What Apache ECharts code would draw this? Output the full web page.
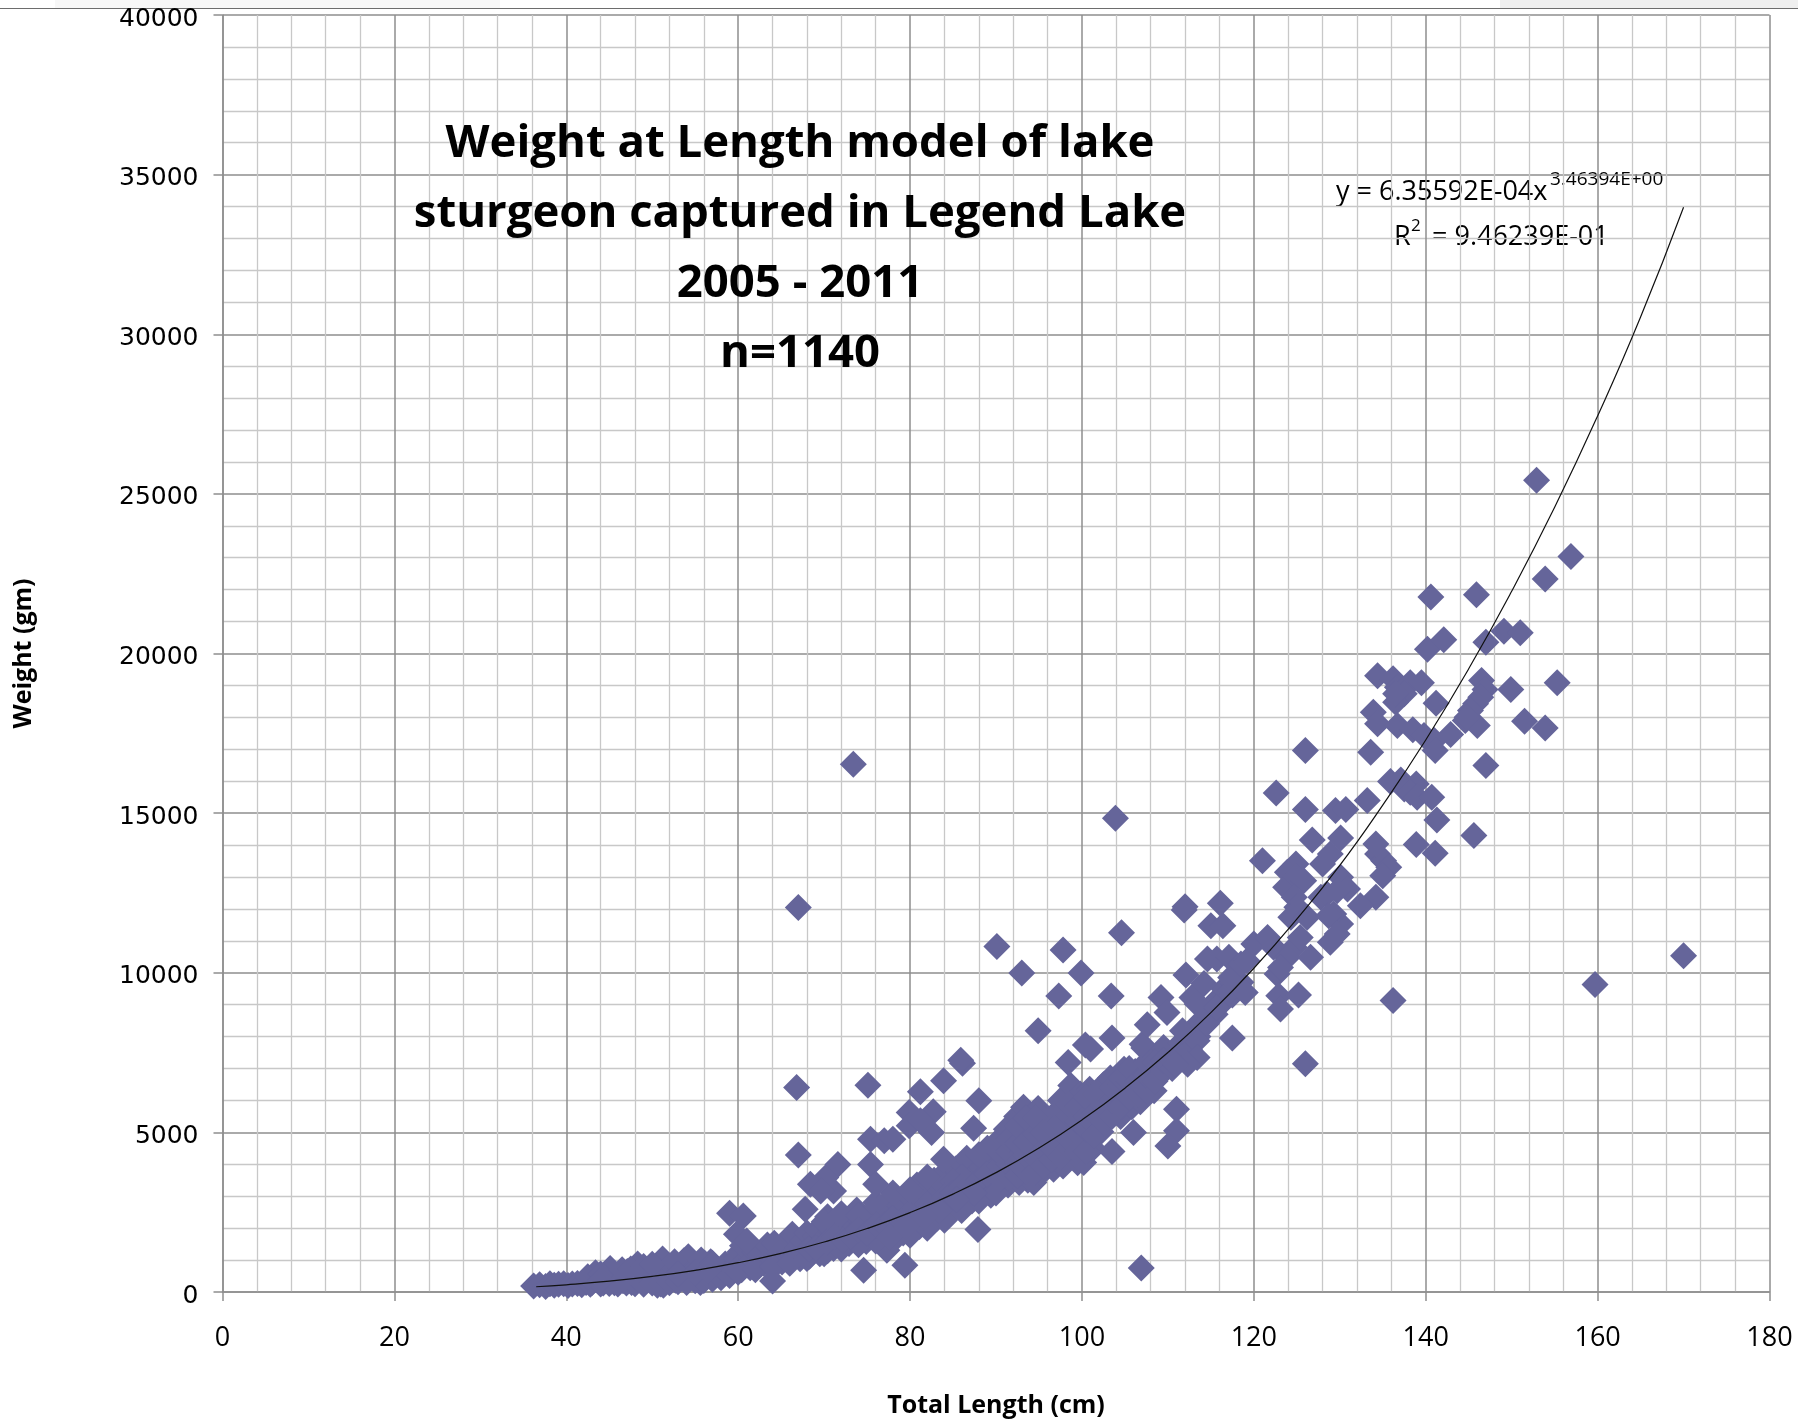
<!DOCTYPE html>
<html>
<head>
<meta charset="utf-8">
<title>Weight at Length model of lake sturgeon</title>
<script src="https://cdn.jsdelivr.net/npm/echarts@6/dist/echarts.min.js"></script>
<style>
  html, body { margin: 0; padding: 0; background: #fff; }
  #chart { width: 1798px; height: 1420px; }
</style>
</head>
<body>
<div id="chart"></div>
<script>
// [total length cm, weight gm]
const smallFish = [
  [36.2,190],[36.9,230],[37.6,170],[38.1,255],[38.6,215],[39.1,240],[39.7,260],[40.2,205],[40.7,250],[41.3,265],[41.8,225],
  [42.3,300],[42.8,240],[43.4,600],[43.9,420],[44.3,280],[44.7,470],[45.1,740],[45.6,290],[46.1,520],[46.6,350],[47.1,640],
  [47.6,300],[48,760],[48.3,880],[48.8,420],[49.2,620],[49.6,740],[50,340],[50.6,210],[50.5,800],[51.2,1035],[51.3,215],
  [51.8,560],[52.3,820],[52.7,370],[53.2,700],[53.7,980],[54.2,1108],[54.7,520],[55.2,790],[55.6,295],[56.1,900],[56.8,950],
  [57.2,480],[57.6,720],[57.9,520],[58.2,700],[58.5,880],[58.8,610],[59.3,650],[59.5,800],[59.8,1050],[60.2,1250],[60.4,700],
  [60.7,950],[60.5,1450],[61.4,760],[61.7,1020],[62,1250],[62.4,820],[62.6,1160],[63,900],[63.4,1470],[63.7,1080],[64.2,1526],
  [64.4,880],[64.8,1200],[65.1,940],[65.4,1380],[65.8,1050],[66.1,1730],[66.3,1808],[66.5,1100],[66.9,1400],[67.2,1045],
  [43,300],[44,250],[45,270],[46,250],[47,280],[48,260],[49,240],[50,280],[51,250],[52,290],[53,320],[54,300],[55,350],[56,360],
  [57,400],[58,450],[59,520],[42.5,480],[44,560],[46.5,700],[47.5,720],[49,800],[50,870],[52.6,950],[55.7,1000],[57,900],[53,560],
  [55,600],[56.5,650],[44,350],[47,500],[60,620],[62,700],[64,800],[66,900]
];

const mediumFish = [
  [67.5,1600],[67.8,1250],[68,1850],[68.3,1120],[68.7,1500],[69,1750],[69.2,1940],[69.5,1200],[69.8,1480],[70.1,1700],[70.4,2360],
  [70.4,1290],[70.8,1900],[71.1,1359],[71.4,1650],[71.7,2100],[72,1450],[72.3,2260],[72.5,1800],[72.9,1520],[73.2,2050],[73.5,1700],
  [73.8,2570],[73.9,1568],[74.2,2250],[74.5,1850],[74.9,1580],[75.2,2400],[75.5,2050],[75.9,1700],[76.2,2650],[76.5,2250],[76.9,1550],
  [77.3,1306],[77.2,1900],[77.6,2450],[78,2990],[78.1,1700],[78.4,2150],[78.8,2700],[79.2,1850],[79.5,2350],[79.9,3000],[80.1,1900],
  [80.4,2600],[80.8,3350],[81.1,2050],[81.5,2850],[81.9,2250],[82.2,3300],[82.4,2600],[82.8,3500],[83.1,2300],[83.5,2950],[83.9,3700],
  [84,2400],[84.3,2350],[84.6,3250],[85,2650],[85.3,3850],[85.7,2900],[86.1,4000],[86.3,2700],[86.6,4190],[86.9,3400],[87.2,2850],
  [87.6,3700],[88,3000],[88.4,3900],[88.7,3200],[89,3500],[89.4,3030],[89.7,4000],[90.1,4700],[90.3,3300],[90.6,3700],[90.9,4200],
  [91.2,5100],[91.4,3350],[91.8,4450],[92.1,3800],[92.4,5500],[92.7,3430],[93,4900],[93.2,5789],[93.4,4100],[93.7,3500],[94,5200],
  [94.4,3427],[94.6,4600],[94.9,5750],[95.2,3700],[95.6,5423],[95.9,4100],[96.2,4800],[96.7,3845],[96.9,5600],[97.2,4400],[97.5,6000],
  [97.8,3950],[98.1,5000],[98.7,6468],[98.8,4300],[99.1,5500],[99.5,4050],[99.8,6200],[100.2,4054],[100.3,4800],[100.6,5800],[100.9,6350],
  [101.3,4500],[101.6,5300],[102,6000],[102.2,5016],[102.5,6490],[102.9,5500],[103.3,6700],[103.7,5700],[104.1,6200],[104.5,5500],[104.9,6981],
  [105.3,6300],[105.8,5800],[106.2,6907],[106.8,5957],[107.2,7640],[107.6,6500],[108,7033],[108.4,6300],[109.2,6897],[109.5,7660],
  [68,1050],[70,1200],[72,1350],[74,1480],[76,1600],[78,1600],[80,1780],[82,2000],[84,2250],[86,2550],[88,2850],[90,3100],
  [70,2200],[72,2450],[74,2400],[76,2800],[78,3100],[80,3200],[82,3600],[84,3300],[86,3600],[88,4300],[89,4500],[85,3450]
];

// the solid part of the cloud, where single fish can't be told apart
const crowdedFish = [
  [68.2,1350],[69.1,1380],[70.3,1560],[71.2,1750],[72.2,1620],[73.1,1750],[74,1950],[75,1850],[76,2100],[77,2100],[78,2300],[79,2200],
  [80,2400],[81,2500],[82,2750],[83,2700],[84,3000],[85,3100],[86,3300],[87,3350],[88,3500],[89,3700],[87.4,3100],[85.4,2900],[83.4,2550],
  [81.6,2350],[79.6,2050],[77.6,1750],[90.5,3550],[90.5,3950],[90.5,4350],[91.5,3600],[91.5,4000],[91.5,4400],[91.5,4800],[92.5,3650],[92.5,4050],
  [92.5,4650],[92.5,5200],[93.5,3800],[93.5,4300],[93.5,4700],[93.5,5450],[94.5,3750],[94.5,4200],[94.5,4950],[94.5,5450],[95.5,3950],[95.5,4450],
  [95.5,5000],[96.5,4150],[96.5,4500],[96.5,5200],[97.5,4250],[97.5,4700],[97.5,5350],[97.5,5700],[98.5,4500],[98.5,4800],[98.5,5550],[98.5,5900],
  [99.5,4400],[99.5,5000],[99.5,5350],[99.5,5800],[100.5,4400],[100.5,5100],[100.5,5500],[100.5,6100],[101.5,4900],[101.5,5600],[101.5,6200],
  [102.5,5300],[102.5,5800],[103.5,5500],[103.5,6000],[103.5,6400],[104.5,5800],[104.5,6500],[104.5,6700],[105.5,6100],[105.5,6600],[105.5,7000],
  [106.5,6200],[106.5,6600],[107.5,6300],[107.5,6800],[107.5,7200],[108.5,6600],[108.5,7200],[109.5,6900],[109.5,7250],[110.5,7300],[110.5,7000],
  [111.5,7500],[111.5,7800],[112.5,7600],[112.5,8100],[113.5,8000],[113.5,8400],[114.5,8400],[114.5,8800],[115.5,8700],[115.5,9100],[116.5,9100],
  [116.5,9500],[117.5,9300],[117.5,9700],[118.5,9700]
];

const largeFish = [
  [100.4,7733],[101,7608],[103.5,7953],[107,7764],[113.4,7869],[113.4,7346],[112.3,7137],[110.9,7137],[107.6,8370],[111.7,8182],
  [109.2,9228],[112.8,9228],[113.4,9018],[109.9,8757],[115.7,8914],[117.3,9439],[114.2,9666],[112.1,9928],[117.3,9854],[119,9384],
  [114.6,10429],[115.7,10429],[117.1,10482],[118.5,10272],[119.2,10377],[120,10900],[121.6,11108],[122.3,10795],[124.7,10795],
  [123.9,10482],[125.4,11108],[126.6,10482],[122.7,9959],[123.1,10168],[122.9,9280],[125.2,9301],[123.1,8862],[115,11474],[116.4,11474],
  [116.1,12174],[112,12070],[111.9,11965],[121,13512],[124.9,13408],[123.9,13146],[128.9,13721],[128,13408],[134.4,13721],[135.1,13512],
  [135.7,13303],[135,13042],[130.1,12990],[130.9,12624],[123.7,12676],[124.9,12990],[125.8,12885],[124.7,12363],[134.2,12363],[132.4,12101],
  [125,12049],[124.3,11735],[126.2,11735],[127.8,12363],[128.5,12467],[129.7,12571],[130.1,11526],[129.3,11840],[128.7,11788],[128.9,10952],
  [129.7,11213],[126,15111],[129.5,15080],[130.7,15111],[133.2,15393],[126.8,14160],[130.1,14223],[134.2,14034],[138.9,14014],[141.1,13742],
  [141.3,14787],[145.6,14296],[122.6,15633],[126,16960],[133.6,16908],[147,16490],[135.9,15988],[137.1,16040],[138.9,15915],[137.5,15757],
  [138.2,15654],[139,15497],[140.7,15497],[133.9,18162],[134.4,17796],[136.7,17744],[138.5,17608],[139.8,17430],[141,17274],[141.1,16960],
  [142.9,17461],[144.6,17900],[146,17744],[151.5,17880],[153.9,17670],[134.4,19300],[136.2,19207],[136.7,18945],[138.2,19081],[139.5,19081],
  [137.5,18736],[136.5,18475],[136.5,18736],[141.2,18444],[146.5,19155],[146.9,18872],[149.9,18872],[155.3,19081],[146.4,18632],[145.8,18423],
  [145.2,18214],[144.8,18005],[140.2,20137],[142.1,20430],[147,20356],[149.1,20700],[151,20650],[140.6,21767],[145.9,21840],[153.9,22331],
  [156.9,23042],[152.9,25424]
];

const outlierFish = [
  [59,2466],[60.6,2383],[59.8,1808],[61,1599],[64,345],[74.6,683],[79.4,836],[87.9,1960],[66.8,6406],[75.1,6479],[86.1,7169],[83.9,6615],
  [81.2,6270],[88,5988],[87.4,5131],[79.9,5622],[82.7,5643],[79.9,5204],[82.5,4995],[81.2,5361],[75.4,4786],[77,4734],[78,4786],[67,4295],
  [83.9,4159],[75.4,3990],[71.6,3990],[70.2,3585],[68.4,3376],[71.1,3166],[69.6,3166],[67.8,2592],[76,3376],[94.9,8182],[98.4,7190],
  [111,5727],[106,4995],[111,5047],[110,4577],[103.5,4399],[106.9,755],[73.4,16530],[67,12040],[103.9,14840],[90.1,10820],[93,9990],
  [97.8,10710],[99.9,9990],[97.3,9270],[103.4,9270],[104.6,11250],[85.9,7260],[159.7,9630],[170,10530],[136.2,9130],[126,7150],[117.5,7953]
];

// trend line as drawn on the chart
const trendLength = [36.5,40,45,50,55,60,65,70,75,80,85,90,95,100,105,110,115,120,125,130,135,140,145,150,155,160,165,170];
const trendWeight = [165,225,339,488,679,918,1211,1566,1988,2486,3067,3739,4510,5390,6385,7502,8750,10140,11680,13360,15250,17290,19520,21950,24580,27440,30540,33980];

const titleLines = ['Weight at Length model of lake', 'sturgeon captured in Legend Lake', '2005 - 2011', 'n=1140'];

let allFish = smallFish.concat(mediumFish, crowdedFish, largeFish, outlierFish);
let trendLine = trendLength.map(function (len, i) { return [len, trendWeight[i]]; });

let chartDom = document.getElementById('chart');
let myChart = echarts.init(chartDom);

const majorGrid = '#8e8e8e';
const minorGrid = '#c8c8c8';
const eqFont = '"Open Sans", sans-serif';

let option = {
  animation: false,
  backgroundColor: '#fff',
  title: {
    text: titleLines.join('\n'),
    left: 795,
    top: 104,
    textAlign: 'center',
    textStyle: {
      fontFamily: '"Open Sans", sans-serif',
      fontWeight: 700,
      fontSize: 45.5,
      lineHeight: 70,
      color: '#000'
    }
  },
  grid: { left: 222.5, right: 28.5, top: 15, bottom: 128, outerBoundsMode: 'none' },
  xAxis: {
    type: 'value',
    min: 0,
    max: 180,
    interval: 20,
    minorTick: { show: false, splitNumber: 5 },
    minorSplitLine: { show: true, lineStyle: { color: minorGrid, width: 1.3 } },
    splitLine: { show: true, lineStyle: { color: majorGrid, width: 1.5 } },
    axisLine: { show: true, onZero: false, lineStyle: { color: majorGrid, width: 1.5 } },
    axisTick: { show: true, length: 9, lineStyle: { color: majorGrid, width: 1.5 } },
    axisLabel: { fontFamily: '"Open Sans", sans-serif', fontSize: 27, color: '#000', margin: 33 },
    name: 'Total Length (cm)',
    nameLocation: 'middle',
    nameGap: 101,
    nameTextStyle: { fontFamily: '"Open Sans", sans-serif', fontWeight: 700, fontSize: 25, color: '#000' }
  },
  yAxis: {
    type: 'value',
    min: 0,
    max: 40000,
    interval: 5000,
    minorTick: { show: false, splitNumber: 5 },
    minorSplitLine: { show: true, lineStyle: { color: minorGrid, width: 1.3 } },
    splitLine: { show: true, lineStyle: { color: majorGrid, width: 1.5 } },
    axisLine: { show: true, onZero: false, lineStyle: { color: majorGrid, width: 1.5 } },
    axisTick: { show: true, length: 9, lineStyle: { color: majorGrid, width: 1.5 } },
    axisLabel: {
      fontFamily: 'DejaVu Sans',
      fontSize: 25,
      color: '#000',
      margin: 24,
      verticalAlign: 'top',
      lineHeight: 8,
      formatter: function (value) { return String(value); }
    },
    name: 'Weight (gm)',
    nameLocation: 'middle',
    nameGap: 186,
    nameTextStyle: { fontFamily: '"Open Sans", sans-serif', fontWeight: 700, fontSize: 25, color: '#000' }
  },
  series: [
    {
      name: 'Weight',
      type: 'scatter',
      symbol: 'diamond',
      symbolSize: 27,
      itemStyle: { color: '#65659a', opacity: 1 },
      data: allFish
    },
    {
      name: 'Trend',
      type: 'line',
      smooth: true,
      symbol: 'none',
      lineStyle: { color: '#111', width: 1.2 },
      data: trendLine,
      z: 5
    }
  ],
  graphic: [
    { type: 'rect', silent: true, shape: { x: 55, y: 0, width: 445, height: 8 }, style: { fill: '#f7f7f7' } },
    { type: 'rect', silent: true, shape: { x: 1500, y: 0, width: 298, height: 8 }, style: { fill: '#efefef' } },
    { type: 'rect', silent: true, shape: { x: 0, y: 8, width: 1798, height: 1 }, style: { fill: '#6d6d6d' } },
    { type: 'text', left: 1336, top: 179, style: { text: 'y = 6.35592E-04x', font: '27px ' + eqFont, fill: '#000' } },
    { type: 'text', left: 1550, top: 170, style: { text: '3.46394E+00', font: '19px ' + eqFont, fill: '#000' } },
    { type: 'text', left: 1394, top: 224, style: { text: 'R', font: '27px ' + eqFont, fill: '#000' } },
    { type: 'text', left: 1411, top: 218, style: { text: '2', font: '17px ' + eqFont, fill: '#000' } },
    { type: 'text', left: 1432, top: 224, style: { text: '= 9.46239E-01', font: '27px ' + eqFont, fill: '#000' } }
  ]
};

myChart.setOption(option);
</script>
</body>
</html>
